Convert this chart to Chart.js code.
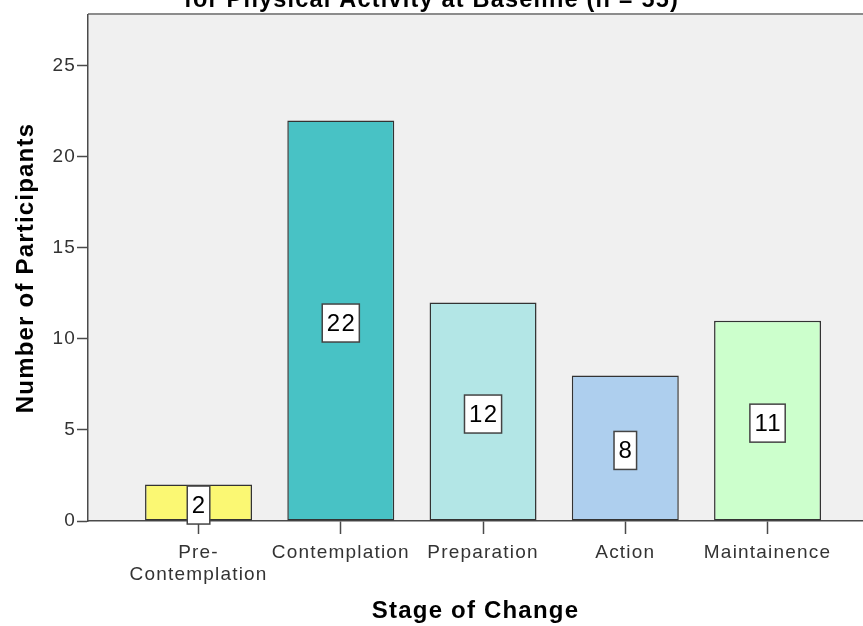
<!DOCTYPE html>
<html>
<head>
<meta charset="utf-8">
<script src="https://cdn.jsdelivr.net/npm/chart.js@4.4.0/dist/chart.umd.min.js"></script>
<style>
  html, body { margin: 0; padding: 0; background: #fff; }
  canvas { display: block; }
</style>
</head>
<body>
<canvas id="chart" width="863" height="626"></canvas>
<script>
// Stage of change at baseline
const stages = [['Pre-', 'Contemplation'], 'Contemplation', 'Preparation', 'Action', 'Maintainence'];
const participants = [2, 22, 12, 8, 11];
const barColors = ['#FBF873', '#48C2C5', '#B3E6E6', '#AECFEE', '#CCFFCC'];
const yTicks = [0, 5, 10, 15, 20, 25];

Chart.defaults.font.family = '"Liberation Sans", Arial, sans-serif';

// grey plot background + top frame line
const plotFrame = {
    id: 'plotFrame',
    beforeDraw(chart) {
        const { ctx, chartArea: a } = chart;
        ctx.letterSpacing = '1.2px';
        ctx.save();
        ctx.fillStyle = '#F0F0F0';
        ctx.fillRect(a.left, a.top, a.right - a.left, a.bottom - a.top);
        ctx.strokeStyle = '#8C8C8C';
        ctx.lineWidth = 2;
        ctx.beginPath();
        ctx.moveTo(a.left, a.top - 1);
        ctx.lineTo(a.right, a.top - 1);
        ctx.stroke();
        ctx.restore();
    }
};

// white boxes with the count in the middle of each bar
const valueBoxes = {
    id: 'valueBoxes',
    afterDatasetsDraw(chart) {
        const { ctx } = chart;
        chart.getDatasetMeta(0).data.forEach((bar, i) => {
            const text = String(participants[i]);
            const cy = (bar.y + bar.base) / 2 + 2.5;
            ctx.save();
            ctx.font = '24px "Liberation Sans", Arial, sans-serif';
            const w = ctx.measureText(text).width + 8;
            const h = 38;
            ctx.fillStyle = '#fff';
            ctx.fillRect(bar.x - w / 2, cy - h / 2, w, h);
            ctx.strokeStyle = '#444';
            ctx.lineWidth = 1.5;
            ctx.strokeRect(bar.x - w / 2, cy - h / 2, w, h);
            ctx.fillStyle = '#000';
            ctx.textAlign = 'center';
            ctx.textBaseline = 'middle';
            ctx.fillText(text, bar.x + 0.6, cy + 1);
            ctx.restore();
        });
    }
};

const chart = new Chart(document.getElementById('chart'), {
    type: 'bar',
    data: {
        datasets: [{
            data: participants.map((v, i) => ({ x: i, y: v })),
            backgroundColor: barColors,
            borderColor: '#333',
            borderWidth: 1.5,
            borderSkipped: false,
            categoryPercentage: 1,
            barPercentage: 0.752
        }]
    },
    options: {
        responsive: false,
        animation: false,
        layout: { padding: 0 },
        plugins: {
            legend: { display: false },
            tooltip: { enabled: false },
            title: {
                display: true,
                text: 'for Physical Activity at Baseline (n = 55)',
                color: '#000',
                font: { size: 23.5, weight: 'bold' },
                padding: { top: -14, bottom: 0.8 }
            }
        },
        scales: {
            x: {
                type: 'linear',
                min: -0.777,
                max: 4.671,
                offset: false,
                afterBuildTicks: s => { s.ticks = stages.map((_, i) => ({ value: i })); },
                afterFit: s => { s.height = 105; },
                grid: { drawOnChartArea: false, offset: false, tickLength: 13, tickColor: '#4a4a4a', tickWidth: 1.5 },
                border: { color: '#4a4a4a', width: 1.5 },
                ticks: {
                    callback: v => stages[v],
                    color: '#333',
                    font: { size: 19 },
                    padding: 7,
                    autoSkip: false,
                    maxRotation: 0,
                    minRotation: 0
                },
                title: {
                    display: true,
                    text: 'Stage of Change',
                    color: '#000',
                    font: { size: 24, weight: 'bold' },
                    padding: { top: 0, bottom: 0 }
                }
            },
            y: {
                min: 0,
                max: 27.8,
                afterBuildTicks: s => { s.ticks = yTicks.map(v => ({ value: v })); },
                afterFit: s => { s.width = 88; },
                grid: { drawOnChartArea: false, tickLength: 11, tickColor: '#4a4a4a', tickWidth: 1.5 },
                border: { color: '#4a4a4a', width: 1.5 },
                ticks: { color: '#333', font: { size: 19 }, padding: 1 },
                title: {
                    display: true,
                    text: 'Number of Participants',
                    color: '#000',
                    font: { size: 24, weight: 'bold' },
                    padding: { top: 12, bottom: 0 }
                }
            }
        }
    },
    plugins: [plotFrame, valueBoxes]
});
</script>
</body>
</html>
